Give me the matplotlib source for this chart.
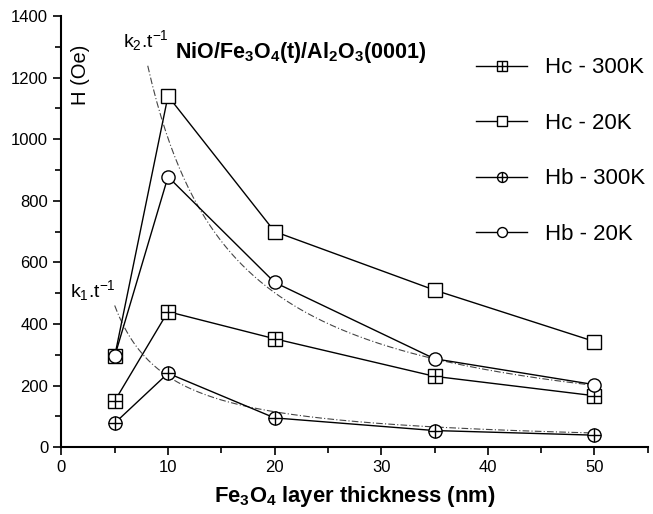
import numpy as np
import matplotlib
matplotlib.use('Agg')
import matplotlib.pyplot as plt
from matplotlib.ticker import MultipleLocator

plt.rcParams['font.family'] = ['Liberation Sans', 'DejaVu Sans']
plt.rcParams['mathtext.default'] = 'regular'

t = [5, 10, 20, 35, 50]
hc_300 = [150, 440, 352, 230, 167]
hc_20 = [295, 1140, 700, 510, 343]
hb_300 = [78, 240, 95, 54, 39]
hb_20 = [295, 878, 535, 287, 203]

# 1/t fits
k1 = 2300
k2 = 10030
t_fit1 = np.linspace(5.0, 50, 200)
t_fit2 = np.linspace(8.1, 50, 200)

fig = plt.figure(figsize=(6.53, 5.14), dpi=100)
ax = fig.add_axes([0.094, 0.130, 0.898, 0.839])

ax.plot(t_fit1, k1 / t_fit1, color='#444444', lw=0.8, ls=(0, (6, 2, 1, 2)), zorder=1)
ax.plot(t_fit2, k2 / t_fit2, color='#444444', lw=0.8, ls=(0, (6, 2, 1, 2)), zorder=1)

ms = 9.5
mk = dict(color='black', lw=1.0, mfc='white', mec='black', mew=1.0, ms=ms)

l1, = ax.plot(t, hc_300, marker='s', zorder=3, **mk)
p1, = ax.plot(t, hc_300, marker='+', ls='none', color='black', ms=ms, mew=1.0, zorder=4)
l2, = ax.plot(t, hc_20, marker='s', zorder=3, **mk)
l3, = ax.plot(t, hb_300, marker='o', zorder=3, **mk)
p3, = ax.plot(t, hb_300, marker='+', ls='none', color='black', ms=ms, mew=1.0, zorder=4)
l4, = ax.plot(t, hb_20, marker='o', zorder=5, **mk)

ax.set_xlim(0, 55)
ax.set_ylim(0, 1400)
ax.xaxis.set_major_locator(MultipleLocator(10))
ax.xaxis.set_minor_locator(MultipleLocator(5))
ax.yaxis.set_major_locator(MultipleLocator(200))
ax.yaxis.set_minor_locator(MultipleLocator(100))
ax.tick_params(which='both', direction='out', width=1.2, labelsize=12)
ax.tick_params(which='major', length=6)
ax.tick_params(which='minor', length=4)
for s in ['top', 'right']:
    ax.spines[s].set_visible(False)
for s in ['left', 'bottom']:
    ax.spines[s].set_linewidth(1.5)

ax.set_xlabel(r'Fe$_3$O$_4$ layer thickness (nm)', fontsize=15.8, fontweight='bold', labelpad=6)
ax.text(1.8, 1210, 'H (Oe)', rotation=90, fontsize=14.5, ha='center', va='center')
ax.text(10.7, 1282, r'NiO/Fe$_3$O$_4$(t)/Al$_2$O$_3$(0001)', fontsize=15.5,
        fontweight='bold', ha='left', va='center')
ax.text(5.8, 1320, r'k$_2$.t$^{-1}$', fontsize=14, ha='left', va='center')
ax.text(0.8, 510, r'k$_1$.t$^{-1}$', fontsize=14, ha='left', va='center')

leg = ax.legend([(l1, p1), l2, (l3, p3), l4],
                ['Hc - 300K', 'Hc - 20K', 'Hb - 300K', 'Hb - 20K'],
                loc='upper right', bbox_to_anchor=(1.03, 0.95), frameon=False,
                fontsize=16, handlelength=2.3, handletextpad=0.8,
                labelspacing=1.55, markerscale=0.75)

fig.savefig('out.png', dpi=100)
